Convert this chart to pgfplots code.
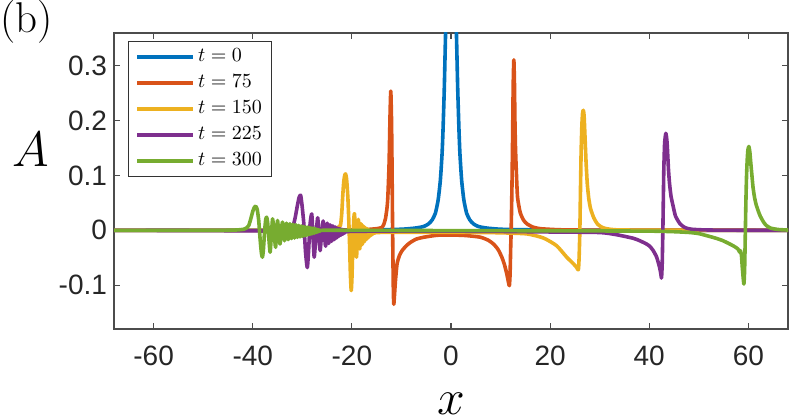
\documentclass[border=0pt]{standalone}
\usepackage{pgfplots}
\pgfplotsset{compat=1.18}
\usepackage{fontspec}
\newfontfamily\tickfont{Liberation Sans}
\definecolor{c1}{rgb}{0,0.447,0.741}
\definecolor{c2}{rgb}{0.85,0.325,0.098}
\definecolor{c3}{rgb}{0.929,0.694,0.125}
\definecolor{c4}{rgb}{0.494,0.184,0.556}
\definecolor{c5}{rgb}{0.466,0.674,0.188}
\begin{document}
\begin{tikzpicture}
\begin{axis}[name=ax, scale only axis, width=337pt, height=148pt,
 xmin=-68, xmax=68, ymin=-0.18, ymax=0.36,
 xtick={-60,-40,-20,0,20,40,60}, xticklabels={-60,-40,-20,0,20,40,60},
 ytick={-0.1,0,0.1,0.2,0.3}, yticklabels={-0.1,0,0.1,0.2,0.3},
 tick align=inside, major tick length=2.8pt,
 axis line style={black!70, line width=0.6pt},
 tick style={black!70, line width=0.6pt},
 tick label style={font=\tickfont\fontsize{14}{16}\selectfont, text=black!85},
 xticklabel style={yshift=-5pt},
 xlabel={$x$}, ylabel={$A$},
 every axis x label/.style={at={(rel axis cs:0.5,0)}, anchor=center, yshift=-37.4pt, inner sep=0pt, font=\fontsize{23}{26}\selectfont},
 every axis y label/.style={at={(rel axis cs:0,0.6064)}, anchor=center, xshift=-41.6pt, inner sep=0pt, font=\fontsize{23}{26}\selectfont},
 legend style={at={(rel axis cs:0,1)}, anchor=north west, xshift=7pt, yshift=-4pt, draw=black!80, line width=0.5pt, fill=white, inner xsep=3.5pt, inner ysep=1.25pt, row sep=0pt, font=\fontsize{10}{12}\selectfont, nodes={inner ysep=0pt, inner xsep=1.5pt, text height=9pt, text depth=4pt}, column sep=0pt},
 legend cell align=left,
 legend image code/.code={\draw[#1] (0pt,0pt) -- (28pt,0pt);},
 every axis plot/.append style={line width=1.8pt, line join=round},
]
\addplot[c1, smooth, tension=0.35] coordinates {(-68,0) (-30,0.0003) (-15,0.001) (-10,0.002) (-7.3,0.004) (-5.5,0.007) (-4.5,0.012) (-3.8,0.019) (-3.16,0.031) (-2.6,0.055) (-2.15,0.091) (-1.8,0.140) (-1.61,0.183) (-1.35,0.26) (-1.1,0.357) (-0.8,0.44) (-0.5,0.52) (-0.25,0.56) (0,0.57) (0.25,0.56) (0.5,0.52) (0.8,0.44) (1.1,0.357) (1.35,0.26) (1.61,0.183) (1.8,0.140) (2.15,0.091) (2.6,0.055) (3.16,0.031) (3.8,0.019) (4.5,0.012) (5.5,0.007) (7.3,0.004) (10,0.002) (15,0.001) (30,0.0003) (68,0)};
\addlegendentry{$t=0$}
\addplot[c2, smooth, tension=0.35] coordinates {(-68,0) (-30,0) (-20,0.0005) (-17,0.0015) (-15,0.003) (-14,0.005) (-13.6,0.010) (-13.23,0.021) (-12.95,0.038) (-12.76,0.058) (-12.5,0.12) (-12.3,0.21) (-12.15,0.254) (-12.0,0.2) (-11.9,0.119) (-11.78,0.0) (-11.65,-0.10) (-11.55,-0.135) (-11.4,-0.118) (-11.21,-0.092) (-10.88,-0.061) (-10.4,-0.046) (-9.87,-0.037) (-9,-0.028) (-8.19,-0.022) (-7,-0.016) (-5.5,-0.0126) (-2.8,-0.009) (0,-0.0085) (3,-0.0095) (5.9,-0.0125) (7.5,-0.018) (8.58,-0.025) (9.5,-0.035) (10.26,-0.049) (10.8,-0.063) (11.27,-0.080) (11.6,-0.095) (11.78,-0.101) (11.92,-0.08) (12.05,-0.03) (12.14,0.0) (12.3,0.08) (12.42,0.16) (12.55,0.265) (12.68,0.311) (12.8,0.27) (12.9,0.2) (13.0,0.155) (13.15,0.115) (13.42,0.061) (13.95,0.033) (14.6,0.019) (15.3,0.012) (16.5,0.006) (18,0.003) (22,0.001) (30,0.0003) (68,0)};
\addlegendentry{$t=75$}
\addplot[c3, smooth, tension=0.35] coordinates {(-68,0) (-30,0) (-25,0.001) (-23.5,0.003) (-22.7,0.006) (-22.3,0.009) (-22.05,0.03) (-21.85,0.062) (-21.65,0.088) (-21.45,0.100) (-21.28,0.103) (-21.1,0.096) (-20.95,0.08) (-20.8,0.058) (-20.63,0.02) (-20.47,-0.025) (-20.3,-0.08) (-20.13,-0.110) (-19.98,-0.085) (-19.8,-0.025) (-19.62,0.02) (-19.47,0.030) (-19.27,-0.005) (-19.07,-0.049) (-18.88,-0.012) (-18.7,0.020) (-18.55,-0.005) (-18.4,-0.034) (-18.15,0.012) (-17.92,-0.026) (-17.7,0.008) (-17.49,-0.021) (-17.29,0.005) (-17.1,-0.017) (-16.92,0.003) (-16.74,-0.014) (-16.57,0.001) (-16.4,-0.011) (-16.24,-0.001) (-16.08,-0.009) (-15.92,-0.002) (-15.77,-0.007) (-15.62,-0.003) (-15.4,-0.005) (-15.0,-0.004) (-10,-0.0035) (0,-0.0035) (5,-0.004) (10,-0.0045) (15.3,-0.0065) (18.65,-0.014) (21.3,-0.028) (23.35,-0.049) (24.7,-0.061) (25.37,-0.068) (25.7,-0.072) (25.85,-0.05) (26.0,0.0) (26.12,0.07) (26.25,0.14) (26.4,0.19) (26.55,0.214) (26.7,0.219) (26.85,0.21) (27.02,0.175) (27.25,0.125) (27.5,0.085) (27.8,0.058) (28.15,0.04) (28.8,0.023) (29.6,0.011) (30.6,0.005) (32,0.002) (36,0.0005) (68,0)};
\addlegendentry{$t=150$}
\addplot[c4, smooth, tension=0.35] coordinates {(-68,0) (-50,-0.0005) (-40,-0.001) (-34,-0.0015) (-32.5,0.0) (-31.8,0.01) (-31.4,0.025) (-31.0,0.045) (-30.65,0.060) (-30.34,0.064) (-30.05,0.045) (-29.67,0.009) (-29.35,-0.04) (-29.0,-0.068) (-28.75,-0.04) (-28.45,0.01) (-28.1,0.030) (-27.85,-0.01) (-27.6,-0.049) (-27.25,-0.01) (-26.9,0.023) (-26.65,-0.01) (-26.4,-0.037) (-26.1,-0.005) (-25.8,0.017) (-25.55,-0.005) (-25.3,-0.029) (-24.98,0.013) (-24.68,-0.024) (-24.38,0.010) (-24.1,-0.020) (-23.83,0.008) (-23.57,-0.017) (-23.32,0.006) (-23.08,-0.014) (-22.85,0.004) (-22.63,-0.011) (-22.42,0.003) (-22.22,-0.009) (-22.02,0.002) (-21.83,-0.007) (-21.64,0.001) (-21.46,-0.005) (-21.28,-0.001) (-21.0,-0.003) (-20.5,-0.002) (-15,-0.0015) (0,-0.0015) (10,-0.002) (20,-0.003) (30,-0.004) (33.4,-0.008) (36.77,-0.0145) (38.1,-0.019) (39.46,-0.025) (40.1,-0.029) (40.8,-0.037) (41.5,-0.049) (42.1,-0.068) (42.35,-0.08) (42.48,-0.087) (42.62,-0.06) (42.75,0.0) (42.85,0.06) (42.94,0.11) (43.1,0.158) (43.35,0.177) (43.6,0.16) (43.89,0.11) (44.1,0.085) (44.4,0.062) (44.8,0.045) (45.3,0.026) (46.2,0.012) (47.2,0.005) (48.5,0.002) (51,0.0008) (55,0.0003) (68,0)};
\addlegendentry{$t=225$}
\addplot[c5, smooth, tension=0.35] coordinates {(-68,0) (-46,0) (-43,0.0008) (-41.8,0.002) (-41.3,0.004) (-40.8,0.009) (-40.4,0.021) (-39.95,0.036) (-39.6,0.043) (-39.4,0.044) (-39.1,0.038) (-38.8,0.018) (-38.5,-0.018) (-38.25,-0.042) (-38.05,-0.049) (-37.85,-0.035) (-37.6,0.0) (-37.38,0.02) (-37.2,0.024) (-37.0,0.015) (-36.75,-0.015) (-36.5,-0.040) (-36.25,-0.01) (-36.0,0.021) (-35.7,-0.005) (-35.4,-0.031) (-35.2,-0.005) (-35.0,0.018) (-34.75,-0.005) (-34.5,-0.025) (-34.25,0.0) (-34.0,0.015) (-33.8,0.0) (-33.6,-0.019) (-33.2,0.013) (-32.85,-0.017) (-32.5,0.012) (-32.18,-0.015) (-31.87,0.011) (-31.57,-0.014) (-31.28,0.010) (-31.0,-0.013) (-30.73,0.009) (-30.47,-0.012) (-30.22,0.008) (-29.98,-0.011) (-29.75,0.007) (-29.52,-0.010) (-29.3,0.006) (-29.09,-0.009) (-28.88,0.006) (-28.68,-0.008) (-28.48,0.005) (-28.29,-0.007) (-28.1,0.004) (-27.92,-0.006) (-27.74,0.004) (-27.56,-0.005) (-27.39,0.003) (-27.22,-0.004) (-27.05,0.002) (-26.88,-0.003) (-26.7,0.001) (-26.5,-0.002) (-26.2,0.0) (-20,0.0) (0,-0.0005) (20,-0.0008) (40,-0.0015) (45,-0.0025) (48.2,-0.004) (50,-0.006) (51.5,-0.0095) (53.3,-0.014) (54.9,-0.019) (56.9,-0.028) (57.9,-0.034) (58.24,-0.040) (58.4,-0.037) (58.6,-0.045) (58.8,-0.07) (59.1,-0.098) (59.25,-0.07) (59.4,0.0) (59.5,0.05) (59.62,0.095) (59.75,0.125) (59.9,0.146) (60.1,0.153) (60.3,0.143) (60.5,0.122) (60.72,0.1) (60.95,0.078) (61.25,0.06) (61.6,0.046) (62.3,0.028) (63.0,0.016) (63.6,0.009) (64.5,0.004) (66,0.0015) (68,0.0005)};
\addlegendentry{$t=300$}
\end{axis}
\pgfresetboundingbox
\path ([xshift=-57pt,yshift=-44.5pt]ax.south west) rectangle ([xshift=0.5pt,yshift=16.5pt]ax.north east);
\node[anchor=north west, inner sep=0pt, font=\fontsize{21.5}{24}\selectfont] at ([xshift=-57pt,yshift=16.5pt]ax.north west) {(b)};
\end{tikzpicture}
\end{document}
